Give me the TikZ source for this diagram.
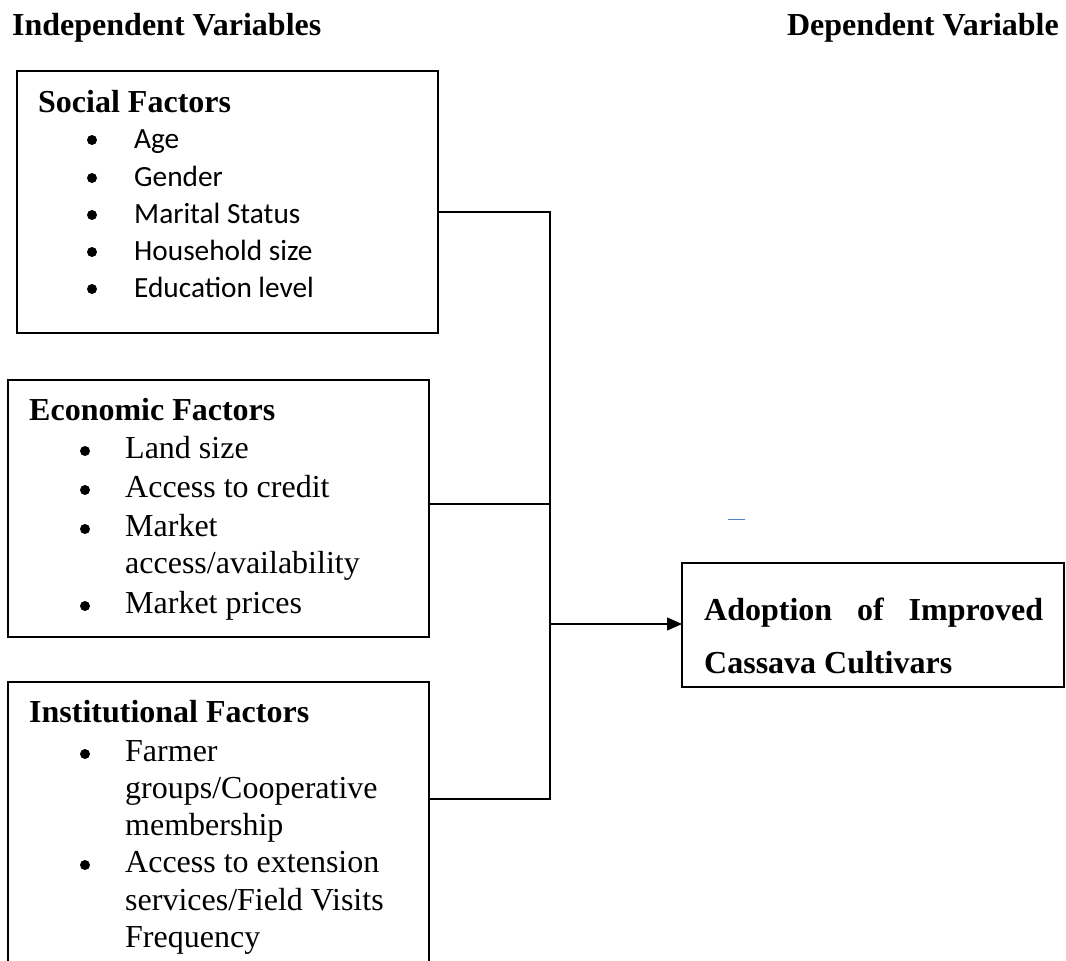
\documentclass[tikz,border=0pt]{standalone}
\usepackage{fontspec}
\setmainfont{Liberation Serif}
\newfontfamily\calibrifont{Carlito}
\usetikzlibrary{arrows.meta}
\definecolor{markblue}{RGB}{80,130,200}
\begin{document}
\begin{tikzpicture}[x=1pt,y=-1pt,
  boxnode/.style={draw=black, line width=1.4pt, rectangle, inner sep=0pt, outer sep=0pt},
  conn/.style={draw=black, line width=1.4pt, line join=miter},
  ttl/.style={anchor=base west, inner sep=0pt, font=\fontsize{32}{38}\selectfont\bfseries},
  itm/.style={anchor=base west, inner sep=0pt, font=\fontsize{32}{38}\selectfont},
  citm/.style={anchor=base west, inner sep=0pt, font=\calibrifont\fontsize{29.3}{35}\selectfont},
  dot/.style={circle, fill=black, inner sep=0pt, minimum size=10pt}
]
\useasboundingbox (0,0) rectangle (1066,961);
\clip (0,0) rectangle (1066,961);

% headers
\node[ttl] (hind) at (12,35) {Independent Variables};
\node[ttl, anchor=base east] (hdep) at (1059,35) {Dependent Variable};

% boxes
\node[boxnode, minimum width=421pt, minimum height=262pt] (social) at (227.5,202) {};
\node[boxnode, minimum width=421pt, minimum height=257pt] (econ) at (218.5,508.5) {};
\node[boxnode, minimum width=421pt, minimum height=318pt] (inst) at (218.5,841) {};
\node[boxnode, minimum width=382pt, minimum height=124pt] (adopt) at (873,625) {};

% social factors
\node[ttl] (stitle) at (38,112) {Social Factors};
\node[dot] (sb1) at (92,140) {};
\node[dot] (sb2) at (92,178) {};
\node[dot] (sb3) at (92,215) {};
\node[dot] (sb4) at (92,252) {};
\node[dot] (sb5) at (92,289) {};
\node[citm] (s1) at (134,148) {Age};
\node[citm] (s2) at (134,186) {Gender};
\node[citm] (s3) at (134,223) {Marital Status};
\node[citm] (s4) at (134,260) {Household size};
\node[citm] (s5) at (134,297) {Education level};

% economic factors
\node[ttl] (etitle) at (29,420) {Economic Factors};
\node[dot] (eb1) at (85,451) {};
\node[dot] (eb2) at (85,490) {};
\node[dot] (eb3) at (85,529) {};
\node[dot] (eb4) at (85,606) {};
\node[itm] (e1) at (125,458) {Land size};
\node[itm] (e2) at (125,497) {Access to credit};
\node[itm] (e3) at (125,536) {Market};
\node[itm] (e3b) at (125,573) {access/availability};
\node[itm] (e4) at (125,613) {Market prices};

% institutional factors
\node[ttl] (ititle) at (29,722) {Institutional Factors};
\node[dot] (ib1) at (85,754) {};
\node[dot] (ib2) at (85,865) {};
\node[itm] (i1) at (125,761) {Farmer};
\node[itm] (i1b) at (125,798) {groups/Cooperative};
\node[itm] (i1c) at (125,835) {membership};
\node[itm] (i2) at (125,872) {Access to extension};
\node[itm] (i2b) at (125,910) {services/Field Visits};
\node[itm] (i2c) at (125,947) {Frequency};

% dependent variable text
\node[ttl] (a1) at (704,620) {\makebox[339pt][s]{Adoption of Improved}};
\node[ttl] (a2) at (704,673) {Cassava Cultivars};

% connectors
\coordinate (jS) at (550,212);
\coordinate (jE) at (550,504);
\coordinate (jA) at (550,624);
\coordinate (jI) at (550,799);
\draw[conn] (social.east |- jS) -- (jS) -- (jI) -- (inst.east |- jI);
\draw[conn] (econ.east |- jE) -- (jE);
\draw[conn, -{Triangle[length=15pt,width=13pt]}] (jA) -- (adopt.west |- jA);

% stray blue mark
\coordinate (m1) at (728,519);
\coordinate (m2) at (745,519);
\draw[markblue, line width=1pt] (m1) -- (m2);
\end{tikzpicture}
\end{document}
